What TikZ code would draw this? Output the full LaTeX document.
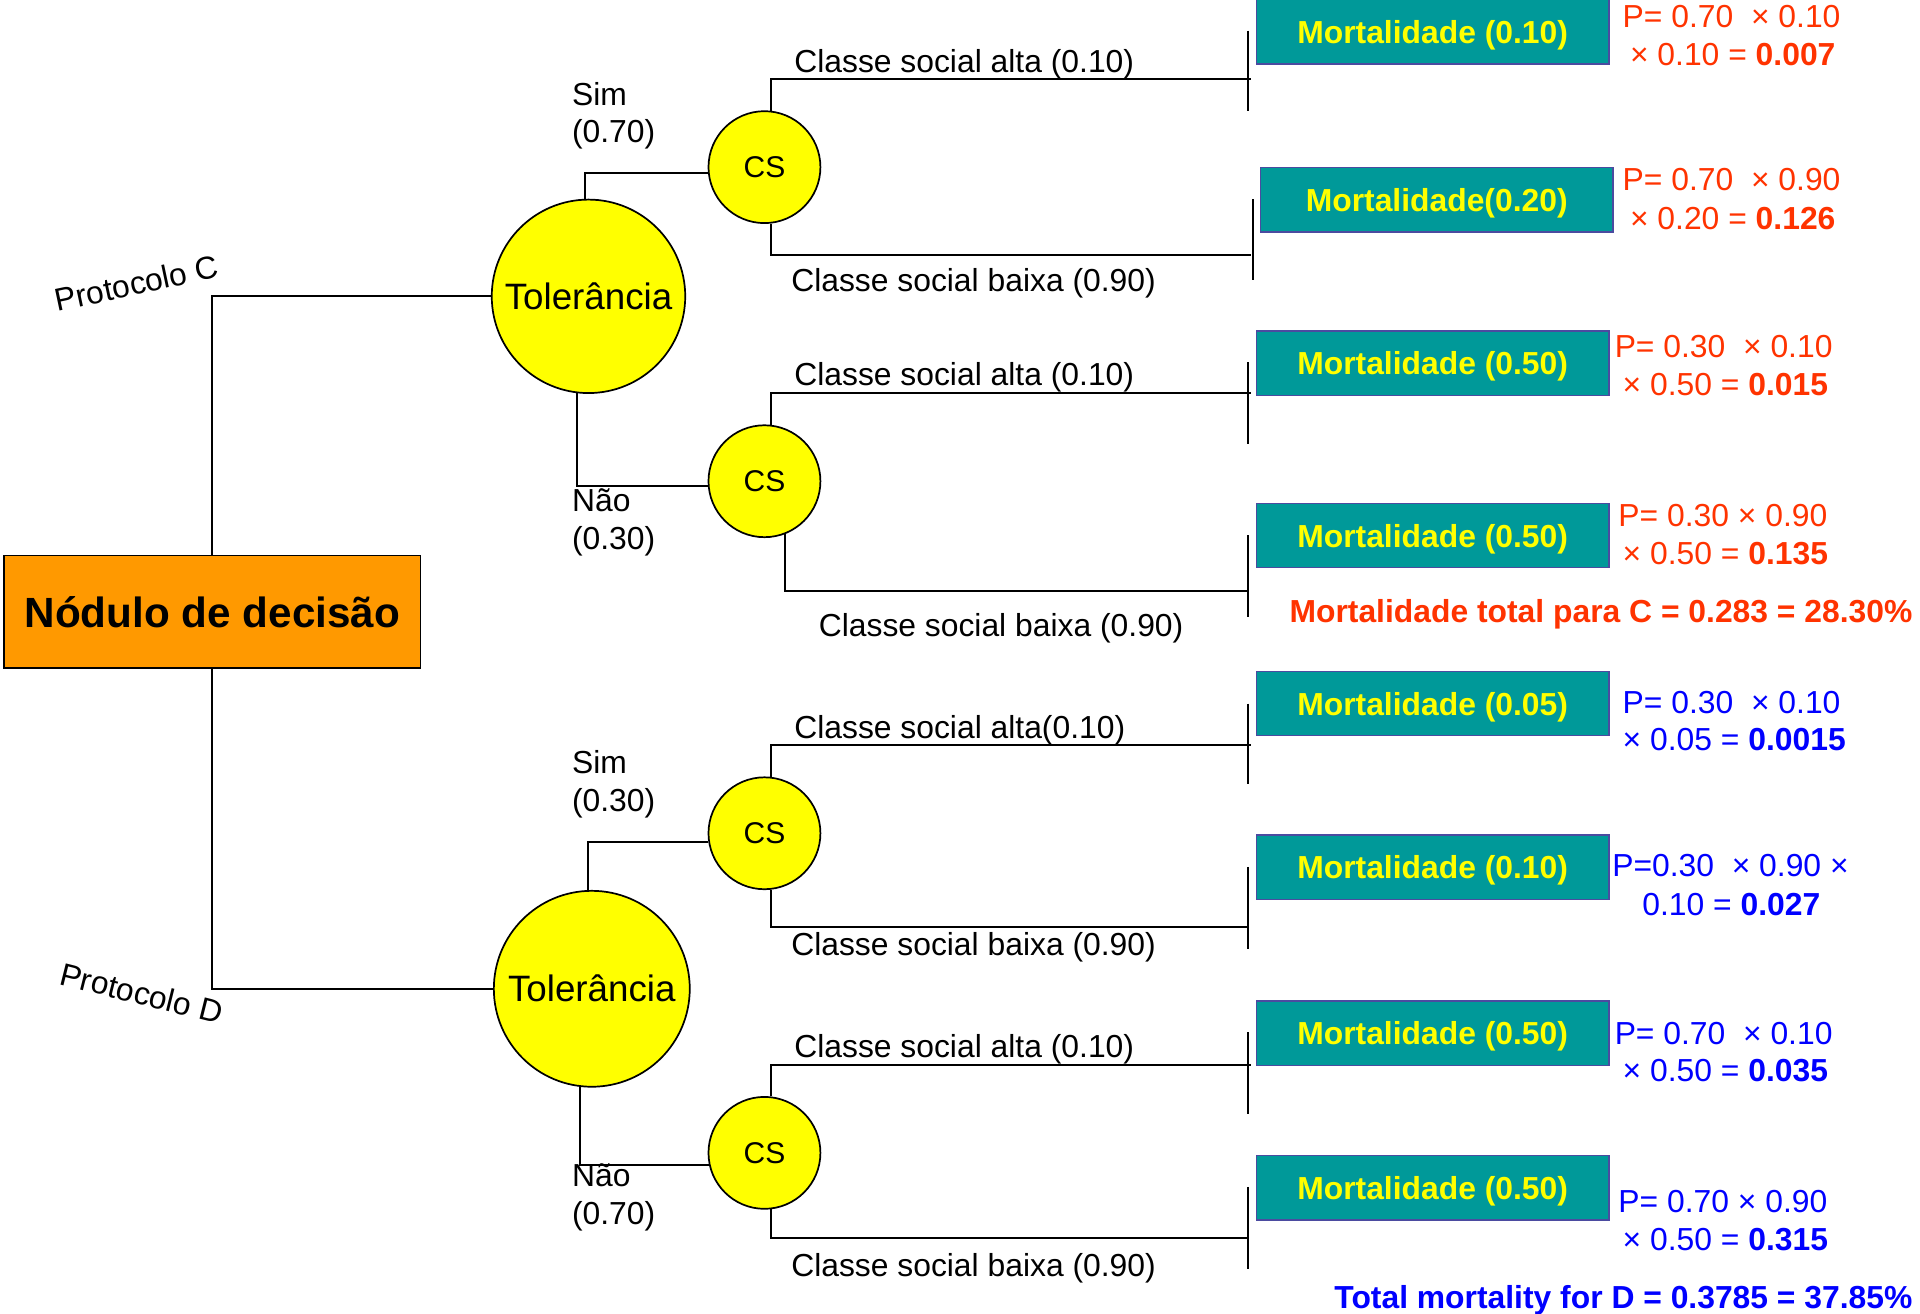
\documentclass[tikz,border=0pt]{standalone}
\usepackage{fontspec}
\setmainfont{Liberation Sans}
\definecolor{cyel}{HTML}{FFFF00}
\definecolor{cteal}{HTML}{009999}
\definecolor{cborder}{HTML}{4B4BA0}
\definecolor{corange}{HTML}{FF9900}
\definecolor{cred}{HTML}{FF3300}
\definecolor{cblue}{HTML}{0000FF}
\tikzset{
  wire/.style={draw=black, line width=1.6pt},
  tolnode/.style={circle, draw=black, line width=1.4pt, fill=cyel, minimum size=158pt, inner sep=0pt, font=\fontsize{30}{36}\selectfont},
  csnode/.style={circle, draw=black, line width=1.4pt, fill=cyel, minimum size=91.4pt, inner sep=0pt, font=\fontsize{24.5}{29}\selectfont},
  mortbox/.style={rectangle, draw=cborder, line width=1.3pt, fill=cteal, minimum width=288pt, minimum height=52.5pt, inner sep=0pt, text depth=0pt, text=cyel, font=\fontsize{26}{31}\selectfont\bfseries},
  decbox/.style={rectangle, draw=black, line width=1.4pt, fill=corange, minimum width=340pt, minimum height=92pt, inner sep=0pt, font=\fontsize{34.5}{40}\selectfont\bfseries},
  lbl/.style={inner sep=0pt, anchor=base west, font=\fontsize{26}{31}\selectfont},
  annr/.style={lbl, text=cred},
  annb/.style={lbl, text=cblue},
  totr/.style={inner sep=0pt, anchor=base east, text=cred, font=\fontsize{26}{31}\selectfont\bfseries},
  totb/.style={inner sep=0pt, anchor=base east, text=cblue, font=\fontsize{26}{31}\selectfont\bfseries},
  prot/.style={inner sep=0pt, font=\fontsize{26}{31}\selectfont},
}
\begin{document}
\begin{tikzpicture}[x=1pt, y=-1pt]
\useasboundingbox[fill=white] (0,0) rectangle (1568,1073);

% decision node and chance nodes
\node[decbox] (dec) at (173.5,499.6) {Nódulo de decisão};
\node[tolnode] (tolC) at (480.6,242) {Tolerância};
\node[tolnode, minimum size=160pt] (tolD) at (483.3,807.5) {Tolerância};
\node[csnode] (cs1) at (624.3,136.5) {CS};
\node[csnode] (cs2) at (624.3,393) {CS};
\node[csnode] (cs3) at (624.3,680.5) {CS};
\node[csnode] (cs4) at (624.3,941.5) {CS};

% outcome boxes
\node[mortbox] (m1) at (1170,26) {Mortalidade (0.10)};
\node[mortbox] (m2) at (1173.3,163) {Mortalidade(0.20)};
\node[mortbox] (m3) at (1170,296.8) {Mortalidade (0.50)};
\node[mortbox] (m4) at (1170,437.3) {Mortalidade (0.50)};
\node[mortbox] (m5) at (1170,574.5) {Mortalidade (0.05)};
\node[mortbox] (m6) at (1170,708.3) {Mortalidade (0.10)};
\node[mortbox] (m7) at (1170,843.8) {Mortalidade (0.50)};
\node[mortbox] (m8) at (1170,970) {Mortalidade (0.50)};

% branch end points and terminal bars
\coordinate (e1) at (1022,64.6);
\coordinate (e2) at (1022,208.3);
\coordinate (e3) at (1022,320.7);
\coordinate (e4) at (1020,482.8);
\coordinate (e5) at (1022,608.3);
\coordinate (e6) at (1020,757);
\coordinate (e7) at (1022,869.6);
\coordinate (e8) at (1020,1010.7);
\foreach \n/\x/\a/\b in {1/1019.5/25/91, 2/1023/162.6/228.6, 3/1019.5/296/362.6, 4/1019.5/437/503.5,
                          5/1019.5/574.6/640, 6/1019.5/708/774.8, 7/1019.5/843/909.6, 8/1019.5/969.3/1036}{
  \coordinate (b\n top) at (\x,\a);
  \coordinate (b\n bot) at (\x,\b);
  \draw[wire] (b\n top) -- (b\n bot);
}

% connectors
\draw[wire] (dec.north) |- (tolC.west);
\draw[wire] (dec.south) |- (tolD.west);
\draw[wire] (tolC.92) |- (cs1.186);
\draw[wire] (tolC.263) |- (cs2.185);
\draw[wire] (tolD.92) |- (cs3.189);
\draw[wire] (tolD.263) |- (cs4.192);
\draw[wire] (cs1.83) |- (e1);
\draw[wire] (cs1.277) |- (e2);
\draw[wire] (cs2.83) |- (e3);
\draw[wire] (cs2.291) |- (e4);
\draw[wire] (cs3.83) |- (e5);
\draw[wire] (cs3.277) |- (e6);
\draw[wire] (cs4.83) |- (e7);
\draw[wire] (cs4.277) |- (e8);

% protocol labels
\node[prot, rotate=12] (pc) at (111.6,231.4) {Protocolo C};
\node[prot, rotate=-14] (pd) at (115.7,811.2) {Protocolo D};

% branch probabilities
\node[lbl] (s1a) at (467,85.9) {Sim};
\node[lbl] (s1b) at (467,116.2) {(0.70)};
\node[lbl] (n1a) at (467,417.6) {Não};
\node[lbl] (n1b) at (467,448.5) {(0.30)};
\node[lbl] (s2a) at (467,631.5) {Sim};
\node[lbl] (s2b) at (467,662.4) {(0.30)};
\node[lbl] (n2a) at (467,969.3) {Não};
\node[lbl] (n2b) at (467,1000.2) {(0.70)};

\node[lbl] (c1) at (648.5,59.1) {Classe social alta (0.10)};
\node[lbl] (c2) at (646,237.8) {Classe social baixa (0.90)};
\node[lbl] (c3) at (648.5,315.2) {Classe social alta (0.10)};
\node[lbl] (c4) at (668.5,519.7) {Classe social baixa (0.90)};
\node[lbl] (c5) at (648.5,602.7) {Classe social alta(0.10)};
\node[lbl] (c6) at (646,780.7) {Classe social baixa (0.90)};
\node[lbl] (c7) at (648.5,864) {Classe social alta (0.10)};
\node[lbl] (c8) at (646,1042.3) {Classe social baixa (0.90)};

% path probabilities, protocol C
\node[annr] (p1a) at (1325,22.3) {P= 0.70~~× 0.10};
\node[annr] (p1b) at (1331,53.3) {× 0.10 = \textbf{0.007}};
\node[annr] (p2a) at (1325,155.4) {P= 0.70~~× 0.90};
\node[annr] (p2b) at (1331,187.3) {× 0.20 = \textbf{0.126}};
\node[annr] (p3a) at (1318.5,292.2) {P= 0.30~~× 0.10};
\node[annr] (p3b) at (1325,323.1) {× 0.50 = \textbf{0.015}};
\node[annr] (p4a) at (1321.5,430.3) {P= 0.30 × 0.90};
\node[annr] (p4b) at (1325,460.6) {× 0.50 = \textbf{0.135}};
\node[totr] (totC) at (1562,508) {Mortalidade total para C = 0.283 = 28.30\%};

% path probabilities, protocol D
\node[annb] (p5a) at (1325,582.4) {P= 0.30~~× 0.10};
\node[annb] (p5b) at (1325,613.3) {× 0.05 = \textbf{0.0015}};
\node[annb] (p6a) at (1316.5,715.8) {P=0.30~~× 0.90 ×};
\node[annb] (p6b) at (1341,747.4) {0.10 = \textbf{0.027}};
\node[annb] (p7a) at (1318.5,852.6) {P= 0.70~~× 0.10};
\node[annb] (p7b) at (1325,883.6) {× 0.50 = \textbf{0.035}};
\node[annb] (p8a) at (1321.5,990.3) {P= 0.70 × 0.90};
\node[annb] (p8b) at (1325,1021.2) {× 0.50 = \textbf{0.315}};
\node[totb] (totD) at (1562,1068.6) {Total mortality for D = 0.3785 = 37.85\%};
\end{tikzpicture}
\end{document}
